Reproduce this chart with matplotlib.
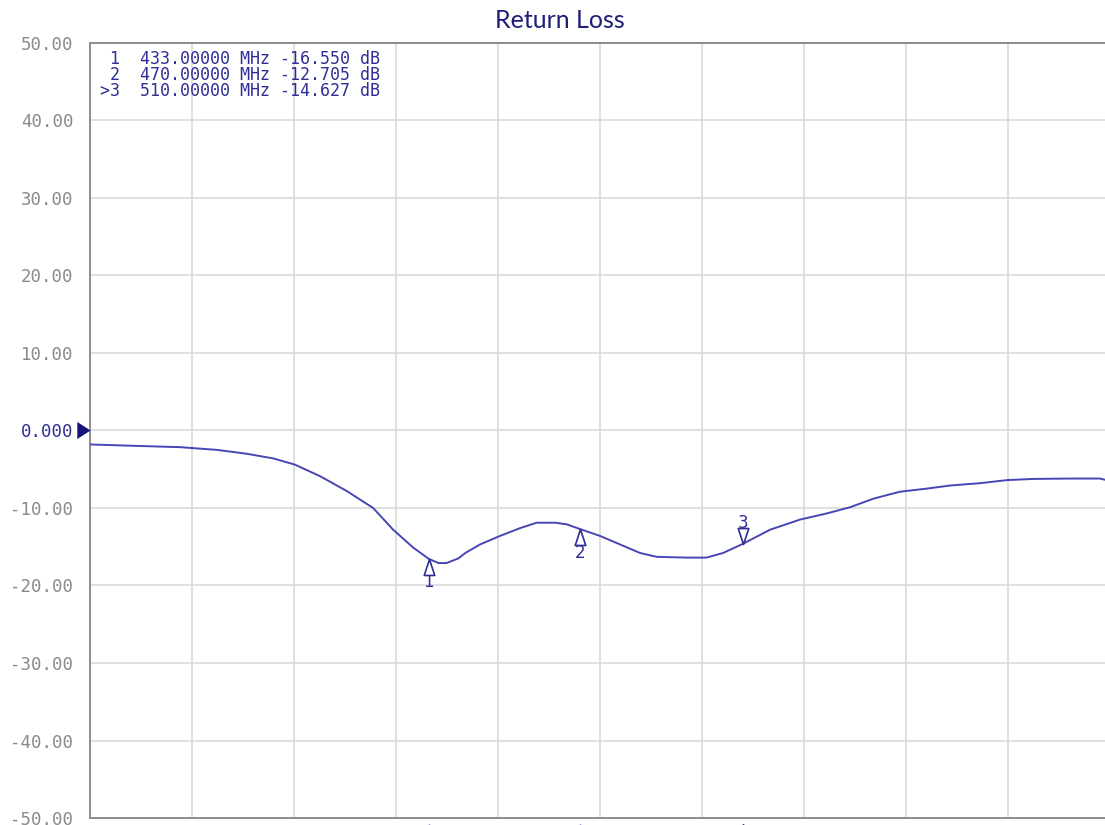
import numpy as np
import matplotlib.pyplot as plt
from matplotlib.path import Path

# Trace S11
freq_mhz = [350.0, 362.3, 372.1, 381.1, 388.4, 394.9, 400.2, 406.4, 412.9,
            419.4, 424.3, 429.2, 433.0, 435.4, 437.4, 440.3, 442.0, 445.6,
            450.5, 455.4, 459.5, 464.0, 466.8, 470.0, 475.0, 479.9, 484.8,
            488.9, 496.2, 501.1, 505.2, 510.0, 516.7, 524.0, 530.6, 536.3,
            542.0, 548.5, 555.1, 560.8, 568.1, 574.8, 581.1, 590.2, 597.5, 600.0]
rl_db = [-1.8, -2.0, -2.15, -2.5, -3.0, -3.6, -4.4, -5.9, -7.8,
         -10.0, -12.8, -15.1, -16.55, -17.1, -17.1, -16.5, -15.8, -14.7,
         -13.6, -12.6, -11.9, -11.9, -12.1, -12.7, -13.6, -14.7, -15.8,
         -16.3, -16.4, -16.4, -15.8, -14.63, -12.8, -11.5, -10.7, -9.9,
         -8.8, -7.9, -7.5, -7.1, -6.8, -6.4, -6.25, -6.2, -6.2, -6.5]

# Marqueurs
marker_ids = ["1", "2", ">3"]
marker_freq = [433.0, 470.0, 510.0]
marker_db = [-16.550, -12.705, -14.627]

y_ticks = [50, 40, 30, 20, 10, 0, -10, -20, -30, -40, -50]
x_ticks = np.arange(350, 601, 25)

navy = "#2e2e96"
dark_navy = "#14147a"
trace_col = "#4646b4"
gris = "#8a8a8a"
mono = "DejaVu Sans Mono"

fig = plt.figure(figsize=(11.05, 8.25), dpi=100)
ax = fig.add_axes([90 / 1105, 1 - 818 / 825, 1020 / 1105, 775 / 825])

ax.plot(freq_mhz, rl_db, color=trace_col, lw=1.4, zorder=3,
        solid_joinstyle="round")

ax.set_xlim(350, 600)
ax.set_ylim(-50, 50)
ax.set_xticks(x_ticks)
ax.set_yticks(y_ticks)
ax.set_xticklabels([])
labels = ["0.000" if v == 0 else f"{v:.2f}" for v in y_ticks]
ax.set_yticklabels(labels, family=mono)
for lab, v in zip(ax.get_yticklabels(), y_ticks):
    lab.set_color(navy if v == 0 else gris)
ax.tick_params(axis="y", length=0, pad=12, labelsize=12.5)
ax.tick_params(axis="x", length=0)
ax.grid(True, color="#dadada", lw=1.2)
ax.set_axisbelow(True)

for s in ["left", "top", "bottom"]:
    ax.spines[s].set_color("#8c8c8c")
    ax.spines[s].set_linewidth(1.4)
ax.spines["right"].set_visible(False)

# Triangle de référence à gauche (pointe sur l'axe)
tri_ref = Path([(0, 0), (-1, 0.65), (-1, -0.65), (0, 0)],
               [Path.MOVETO, Path.LINETO, Path.LINETO, Path.CLOSEPOLY])
ax.plot([0], [0], transform=ax.get_yaxis_transform(), marker=tri_ref,
        markersize=19, color=dark_navy, mew=0, clip_on=False, zorder=5)

# Triangles de marqueur sur la trace
tri_up = Path([(0, 0), (-0.33, -1), (0.33, -1), (0, 0)],
              [Path.MOVETO, Path.LINETO, Path.LINETO, Path.CLOSEPOLY])
tri_down = Path([(0, 0), (-0.33, 1), (0.33, 1), (0, 0)],
                [Path.MOVETO, Path.LINETO, Path.LINETO, Path.CLOSEPOLY])
for mid, f, d in zip(marker_ids, marker_freq, marker_db):
    num = mid.strip(">")
    active = mid.startswith(">")
    ax.plot(f, d, marker=tri_down if active else tri_up, markersize=23,
            markerfacecolor="white", markeredgecolor=navy, mew=1.2, zorder=4)
    ax.annotate(num, (f, d), xytext=(0, 15 if active else -17),
                textcoords="offset points", ha="center", va="center",
                color=navy, fontsize=12)
    # petits repères sous l'axe
    ax.plot(f, -0.012, transform=ax.get_xaxis_transform(), marker="^",
            markersize=5, color=dark_navy if active else "#9a9ad6",
            clip_on=False, zorder=5)

# Tableau des marqueurs (un seul bloc de texte, police à chasse fixe)
lignes = [f"{mid:>2}  {f:.5f} MHz {d:.3f} dB"
          for mid, f, d in zip(marker_ids, marker_freq, marker_db)]
fig.text(100 / 1105, 1 - 50 / 825, "\n".join(lignes), ha="left", va="top",
         color=navy, fontsize=12, family=mono, linespacing=0.85)

fig.text(560 / 1105, 1 - 20 / 825, "Return Loss", ha="center", va="center",
         color="#1e1e78", fontsize=18, family="Lato")

fig.savefig("out.png", dpi=100)
